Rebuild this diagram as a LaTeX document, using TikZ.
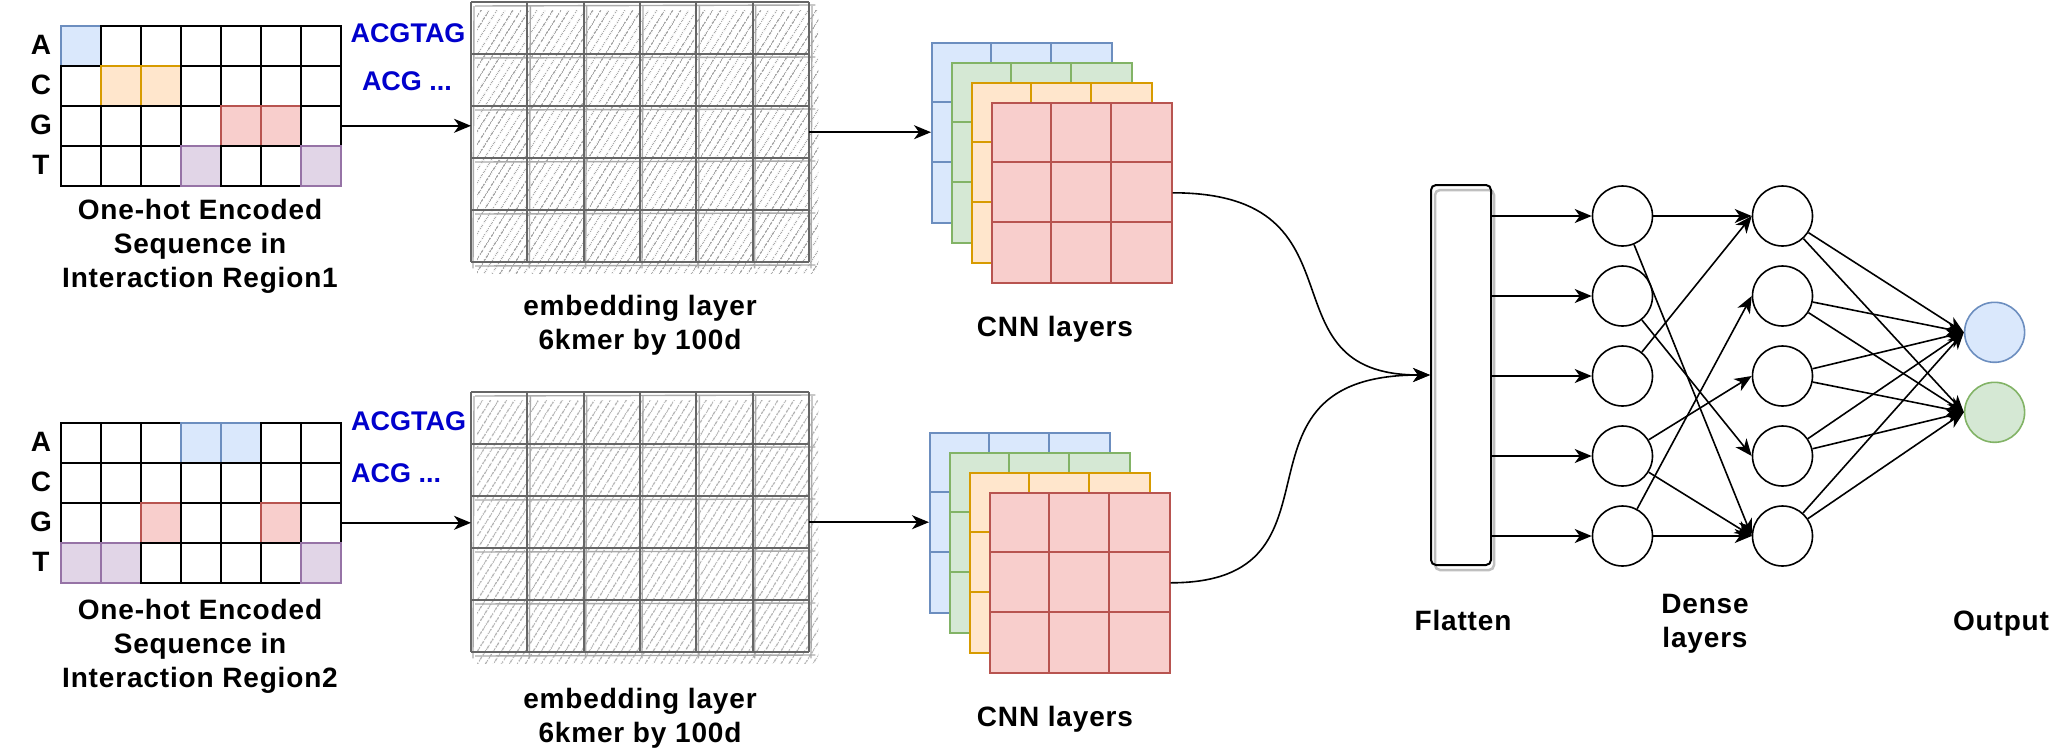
\documentclass[tikz,border=0pt]{standalone}
\usepackage{fontspec}
\setmainfont{Liberation Sans}
\newfontfamily\lblfam{Liberation Sans}[LetterSpace=3]
\usetikzlibrary{arrows.meta,patterns.meta,calc}
\definecolor{bfill}{HTML}{DAE8FC}\definecolor{bdraw}{HTML}{6C8EBF}
\definecolor{gfill}{HTML}{D5E8D4}\definecolor{gdraw}{HTML}{82B366}
\definecolor{ofill}{HTML}{FFE6CC}\definecolor{odraw}{HTML}{D79B00}
\definecolor{rfill}{HTML}{F8CECC}\definecolor{rdraw}{HTML}{B85450}
\definecolor{pfill}{HTML}{E1D5E7}\definecolor{pdraw}{HTML}{9673A6}
\definecolor{seqblue}{HTML}{0000CC}
\definecolor{sketch}{HTML}{666666}
\definecolor{sketchlight}{HTML}{AAAAAA}
\definecolor{hatchgray}{HTML}{ABABAB}
\tikzset{
  lab/.style={font=\lblfam\bfseries\fontsize{28}{34}\selectfont, align=center, anchor=base, inner sep=0pt},
  seq/.style={font=\bfseries\fontsize{27}{32}\selectfont, text=seqblue, inner sep=0pt},
  nuc/.style={font=\bfseries\fontsize{28}{34}\selectfont, inner sep=0pt},
  arr/.style={line width=1.6pt, -{Stealth[length=17pt,width=14pt,inset=5pt]}},
  cell/.style={draw=black, fill=white, line width=1.6pt, minimum width=40pt, minimum height=40pt, inner sep=0pt, anchor=north west},
  c-w/.style={},
  c-b/.style={fill=bfill, draw=bdraw},
  c-o/.style={fill=ofill, draw=odraw},
  c-r/.style={fill=rfill, draw=rdraw},
  c-p/.style={fill=pfill, draw=pdraw},
  embbox/.style={minimum width=338pt, minimum height=260pt, inner sep=0pt, anchor=north west},
  hatch/.style={pattern={Lines[angle=58,distance=6.5pt,line width=1pt]}, pattern color=hatchgray},
  embline/.style={draw=sketch, line width=2.2pt},
  emblight/.style={draw=sketchlight, line width=1.4pt},
  cnn/.style={minimum width=180pt, minimum height=180pt, inner sep=0pt, anchor=north west, line width=1.6pt},
  flatbox/.style={draw=black, line width=2pt, rounded corners=5pt, minimum width=60pt, minimum height=380pt, inner sep=0pt},
  neuron/.style={circle, draw=black, fill=white, line width=1.6pt, minimum size=60pt, inner sep=0pt},
}
\begin{document}
\begin{tikzpicture}[x=1pt,y=-1pt]
\useasboundingbox (0,0) rectangle (2052,750);

% ---------- one-hot grids ----------
\foreach \r/\row in {1/{b,w,w,w,w,w,w},2/{w,o,o,w,w,w,w},3/{w,w,w,w,r,r,w},4/{w,w,w,p,w,w,p}}{
  \foreach \s [count=\c] in \row {
    \node[cell, c-\s] (t-\r-\c) at ({60+40*(\c-1)},{25+40*(\r-1)}) {};
  }
}
\foreach \r/\row in {1/{w,w,w,b,b,w,w},2/{w,w,w,w,w,w,w},3/{w,w,r,w,w,r,w},4/{p,p,w,w,w,w,p}}{
  \foreach \s [count=\c] in \row {
    \node[cell, c-\s] (b-\r-\c) at ({60+40*(\c-1)},{422+40*(\r-1)}) {};
  }
}
\foreach \l [count=\i] in {A,C,G,T} {
  \node[nuc] (tl-\i) at (41,{5+40*\i}) {\l};
  \node[nuc] (bl-\i) at (41,{402+40*\i}) {\l};
}
\node[seq] (tseq1) at (408,33.3) {ACGTAG};
\node[seq] (tseq2) at (407,81.7) {ACG ...};
\node[seq, anchor=west] (bseq1) at (351,420.7) {ACGTAG};
\node[seq, anchor=west] (bseq2) at (351,473.3) {ACG ...};
\node[lab] (tlab) at (200,287) {One-hot Encoded\\Sequence in\\Interaction Region1};
\node[lab] (blab) at (200,687) {One-hot Encoded\\Sequence in\\Interaction Region2};

% ---------- embedding layers ----------
\foreach \e/\y in {emb1/2, emb2/392} {
  \node[embbox] (\e) at (471,\y) {};
  \fill[hatch] ($(\e.north west)+(6,8)$) rectangle ($(\e.south east)+(9,11)$);
  \foreach \i in {0,...,6} {
    \draw[emblight] ($(\e.north west)+({338*\i/6+3},4)$) -- ($(\e.south west)+({338*\i/6+2},6)$);
  }
  \foreach \j in {0,...,5} {
    \draw[emblight] ($(\e.north west)+(4,{260*\j/5+4})$) -- ($(\e.north east)+(6,{260*\j/5+3})$);
  }
  \foreach \i in {0,...,6} {
    \draw[embline] ($(\e.north west)+({338*\i/6},0)$) -- ($(\e.south west)+({338*\i/6},0)$);
  }
  \foreach \j in {0,...,5} {
    \draw[embline] ($(\e.north west)+(0,{260*\j/5})$) -- ($(\e.north east)+(0,{260*\j/5})$);
  }
}
\node[lab] (e1lab) at (640,349) {embedding layer\\6kmer by 100d};
\node[lab] (e2lab) at (640,742) {embedding layer\\6kmer by 100d};

% ---------- CNN layers ----------
\foreach \k/\bx/\by in {c1/931/42, c2/929/432} {
  \foreach \nm/\fc/\dc/\d in {bl/bfill/bdraw/0, gr/gfill/gdraw/20, or/ofill/odraw/40, re/rfill/rdraw/60} {
    \node[cnn, fill=\fc, draw=\dc] (\k-\nm) at (\bx+\d,\by+\d) {};
    \draw[\dc, line width=1.6pt]
      ($(\k-\nm.north west)+(60,0)$) -- ($(\k-\nm.south west)+(60,0)$)
      ($(\k-\nm.north west)+(120,0)$) -- ($(\k-\nm.south west)+(120,0)$)
      ($(\k-\nm.north west)+(0,60)$) -- ($(\k-\nm.north east)+(0,60)$)
      ($(\k-\nm.north west)+(0,120)$) -- ($(\k-\nm.north east)+(0,120)$);
  }
}
\node[lab] (c1lab) at (1055,336.7) {CNN layers};
\node[lab] (c2lab) at (1055,726.7) {CNN layers};

% arrows on the left part
\draw[arr] (t-3-7.east) -- (t-3-7.east -| emb1.west);
\draw[arr] (b-3-7.east) -- (b-3-7.east -| emb2.west);
\draw[arr] (emb1.east) -- (emb1.east -| c1-bl.west);
\draw[arr] (emb2.east) -- (emb2.east -| c2-bl.west);

% ---------- flatten ----------
\coordinate (flatc) at (1461,375);
\draw[draw=black!25, line width=2.5pt, rounded corners=5pt] (1435,190) rectangle (1494,570);
\node[flatbox] (flat) at (flatc) {};
\node[lab] (flatlab) at (1463,630.7) {Flatten};

\draw[arr] (c1-re.east) .. controls ($(c1-re.east)+(200,0)$) and ($(flat.west)+(-173,0)$) .. (flat.west);
\draw[arr] (c2-re.east) .. controls ($(c2-re.east)+(190,0)$) and ($(flat.west)+(-217,0)$) .. (flat.west);

% ---------- dense layers ----------
\foreach \y [count=\i] in {216,296,376,456,536} {
  \node[neuron] (h1-\i) at (1622.5,\y) {};
  \node[neuron] (h2-\i) at (1782.5,\y) {};
  \draw[arr] (h1-\i.west -| flat.east) -- (h1-\i.west);
}
\node[neuron, fill=bfill, draw=bdraw] (o1) at (1994.6,332.3) {};
\node[neuron, fill=gfill, draw=gdraw] (o2) at (1994.6,412.3) {};

\foreach \a/\b in {1/1,1/5,2/4,3/1,4/3,4/5,5/2,5/5} {
  \draw[arr] (h1-\a) -- (h2-\b.west);
}
\foreach \a in {1,...,5} {
  \draw[arr] (h2-\a) -- (o1.west);
  \draw[arr] (h2-\a) -- (o2.west);
}
\node[lab] (denselab) at (1705,647) {Dense\\layers};
\node[lab] (outlab) at (2001,630.7) {Output};
\end{tikzpicture}
\end{document}
